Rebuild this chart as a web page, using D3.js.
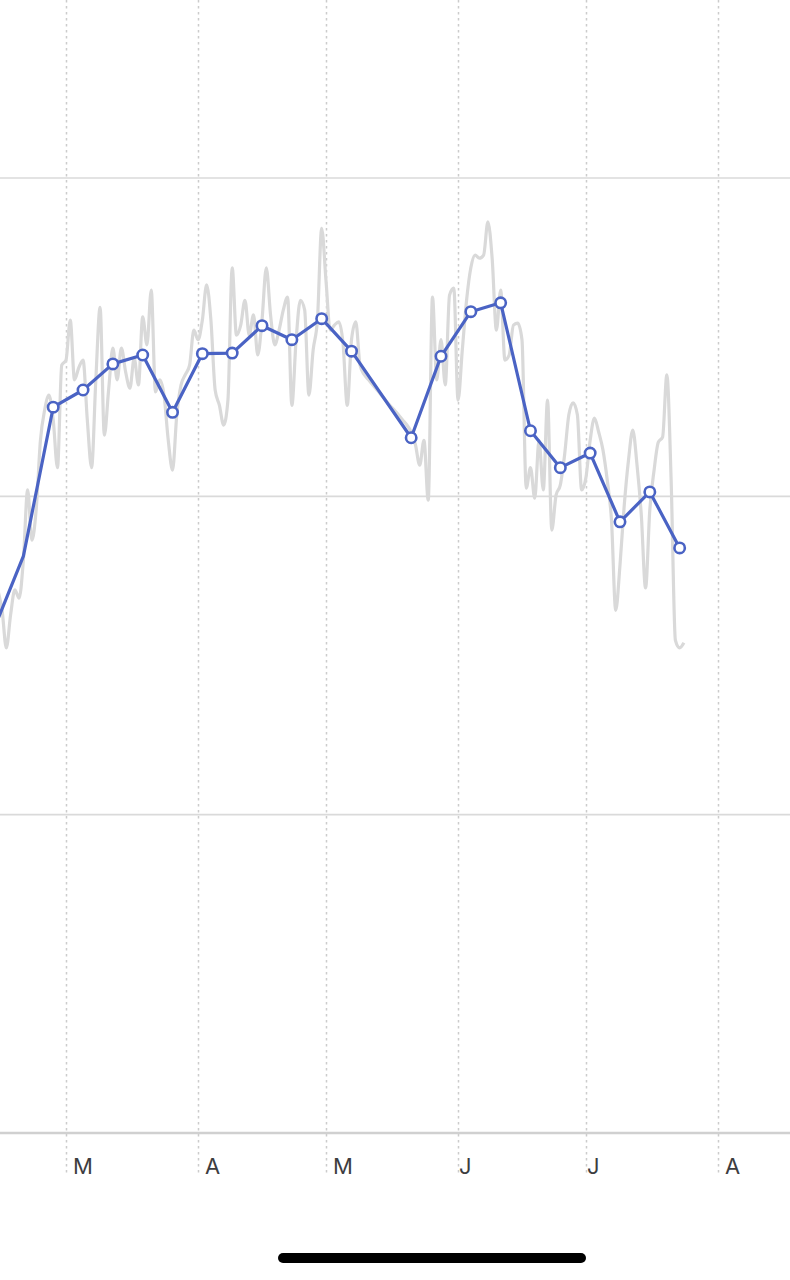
<!DOCTYPE html>
<html>
<head>
<meta charset="utf-8">
<script src="https://cdn.jsdelivr.net/npm/d3@7"></script>
<style>
  html, body { margin: 0; padding: 0; background: #ffffff; }
  svg { display: block; }
</style>
</head>
<body>
<svg id="chart" width="790" height="1280"></svg>
<script>
// ---------------- data ----------------
const monthTicks = ["2021-03-01", "2021-04-01", "2021-05-01", "2021-06-01", "2021-07-01", "2021-08-01"];
const monthLabels = ["M", "A", "M", "J", "J", "A"];
const yTicks = [0, 50, 100, 150];

// daily series (gray), one value per day starting at dailyStart
const dailyStart = "2021-02-12";
const dailyValues = [
  87.6, 85.3, 82.1, 76.2, 81.4, 85.3, 84.0, 90.0, 101.0, 93.1, 97.9, 108.8, 113.6, 115.9, 112.0, 104.5, 120.6,
  121.4, 127.7, 118.3, 120.2, 121.4, 112.0, 104.5, 118.3, 129.7, 109.6,
  116.7, 123.3, 118.3, 123.3, 119.5, 117.0, 121.7, 117.5, 128.2, 123.8,
  132.4, 116.4, 118.3, 115.9, 108.8, 104.1, 112.8, 117.5, 119.1, 120.6,
  126.1, 124.6, 127.7, 133.2, 127.7, 116.7, 114.3, 111.2, 115.1, 135.9,
  125.3, 126.9, 130.8, 125.3, 128.5, 122.2, 127.7, 135.9, 128.5, 123.8,
  126.1, 129.3, 131.3, 114.3, 124.6, 130.8, 129.3, 115.9, 123.0, 127.7,
  142.1, 134.0, 126.1, 126.9, 127.4, 124.1, 114.3, 124.6, 127.4, 120.6,
  119.1, 118.3, 117.5, 116.7, 115.9, 115.1, 114.3, 113.6, 112.8, 112.0,
  111.2, 110.1, 108.1, 104.9, 108.8, 99.4, 131.3, 118.3, 124.6, 117.5,
  131.6, 132.7, 115.1, 123.0, 130.8, 135.9, 137.9, 137.4, 137.9, 143.1,
  137.4, 126.1, 132.4, 121.4, 122.2, 126.9, 127.2, 124.6, 101.3, 104.5,
  99.7, 108.8, 101.0, 115.1, 94.7, 100.2, 101.8, 106.5, 112.8, 114.7,
  112.8, 101.0, 102.9, 108.8, 112.3, 110.1, 107.3, 102.6, 96.3, 82.1,
  89.2, 98.6, 105.7, 110.4, 104.9, 97.1, 85.6, 97.9, 104.1, 108.5,
  109.3, 119.1, 102.6, 77.4, 76.2, 77.0
];

// weekly series (blue)
const weekDates = [
  "2021-02-12", "2021-02-19", "2021-02-26", "2021-03-05", "2021-03-12", "2021-03-19", "2021-03-26",
  "2021-04-02", "2021-04-09", "2021-04-16", "2021-04-23", "2021-04-30", "2021-05-07", "2021-05-21",
  "2021-05-28", "2021-06-04", "2021-06-11", "2021-06-18", "2021-06-25", "2021-07-02", "2021-07-09",
  "2021-07-16", "2021-07-23"
];
const weekValues = [
  79.0, 90.6, 114.0, 116.7, 120.8, 122.2, 113.2,
  122.4, 122.5, 126.8, 124.6, 127.9, 122.8, 109.2,
  122.0, 129.0, 130.4, 110.3, 104.5, 106.8, 96.0,
  100.7, 91.9
];
const markersFrom = "2021-02-26";

// ---------------- drawing ----------------
const parse = d3.timeParse("%Y-%m-%d");
const svg = d3.select("#chart");

const x = d3.scaleTime()
  .domain([parse(monthTicks[0]), parse(monthTicks[monthTicks.length - 1])])
  .range([66, 718]);
const y = d3.scaleLinear().domain([0, 150]).range([1133, 178]);

const start = parse(dailyStart);
const daily = dailyValues.map((v, i) => ({ date: d3.timeDay.offset(start, i), value: v }));
const weekly = weekDates.map((d, i) => ({ date: parse(d), value: weekValues[i] }));
const markStart = parse(markersFrom);

// horizontal grid lines
svg.append("g").selectAll("line")
  .data(yTicks)
  .join("line")
  .attr("x1", 0).attr("x2", 790)
  .attr("y1", d => y(d)).attr("y2", d => y(d))
  .attr("stroke", d => d === 0 ? "#d0d0d0" : "#dadada")
  .attr("stroke-width", d => d === 0 ? 2.4 : 1.6);

// vertical dotted month lines
svg.append("g").selectAll("line")
  .data(monthTicks.map(parse))
  .join("line")
  .attr("x1", d => Math.round(x(d)) + 0.5).attr("x2", d => Math.round(x(d)) + 0.5)
  .attr("y1", 0).attr("y2", 1176)
  .attr("stroke", "#cccccc")
  .attr("stroke-width", 1.5)
  .attr("stroke-dasharray", "2.5,3.5");

// month labels
svg.append("g").selectAll("text")
  .data(monthTicks.map((d, i) => ({ date: parse(d), label: monthLabels[i] })))
  .join("text")
  .attr("x", d => x(d.date) + (d.label === "J" ? 1 : 7))
  .attr("y", 1174)
  .attr("font-family", "Inter, 'Open Sans', sans-serif")
  .attr("font-size", 22)
  .attr("fill", "#3d3d3f")
  .text(d => d.label);

// gray daily line
svg.append("path")
  .datum(daily)
  .attr("fill", "none")
  .attr("stroke", "#d9d9d9")
  .attr("stroke-width", 3.2)
  .attr("stroke-linejoin", "round")
  .attr("d", d3.line().x(d => x(d.date)).y(d => y(d.value)).curve(d3.curveMonotoneX));

// blue weekly line
svg.append("path")
  .datum(weekly)
  .attr("fill", "none")
  .attr("stroke", "#4a63c4")
  .attr("stroke-width", 3.2)
  .attr("stroke-linejoin", "round")
  .attr("d", d3.line().x(d => x(d.date)).y(d => y(d.value)));

// markers
svg.append("g").selectAll("circle")
  .data(weekly.filter(d => d.date >= markStart))
  .join("circle")
  .attr("cx", d => x(d.date))
  .attr("cy", d => y(d.value))
  .attr("r", 5.2)
  .attr("fill", "#ffffff")
  .attr("stroke", "#4a63c4")
  .attr("stroke-width", 2.6);

// home indicator
svg.append("rect")
  .attr("x", 278).attr("y", 1253)
  .attr("width", 308).attr("height", 10)
  .attr("rx", 5)
  .attr("fill", "#000000");
</script>
</body>
</html>
